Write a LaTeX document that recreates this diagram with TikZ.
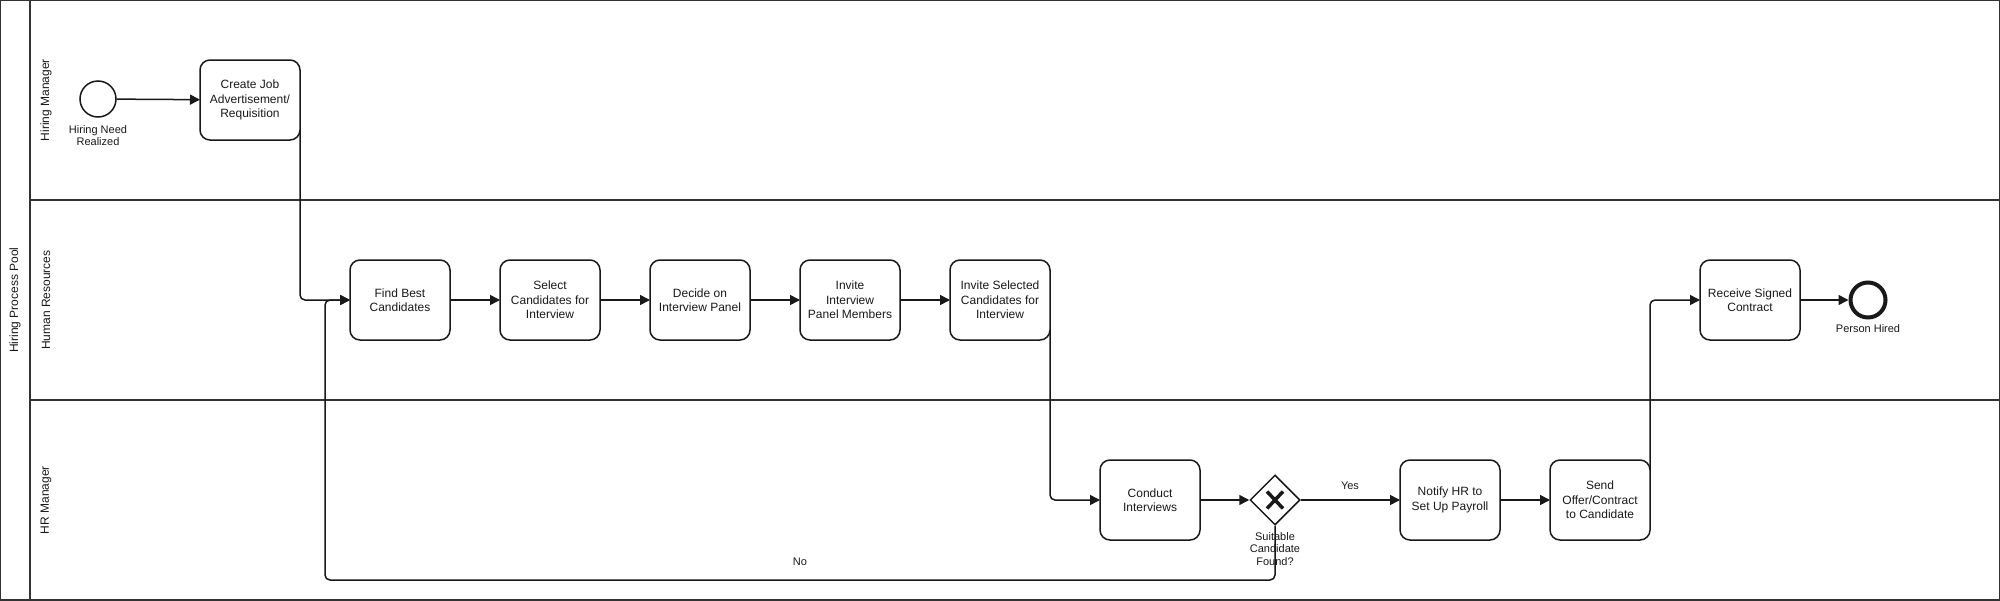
\documentclass[tikz,border=0pt]{standalone}
\usepackage{fontspec}
\setmainfont{Liberation Sans}
\usetikzlibrary{arrows.meta,shapes.geometric}

\begin{document}
\begin{tikzpicture}[x=1pt, y=-1pt,
    marc/.style={draw=black!80, line width=1.2pt},
    carril/.style={rotate=90, font=\fontsize{12}{14}\selectfont, text=black!90},
    tasca/.style={draw=black!90, line width=1.5pt, rounded corners=10pt, minimum width=100pt, minimum height=80pt, inner sep=2pt, outer sep=0pt, align=center, font=\fontsize{12}{14.5}\selectfont, text=black!90},
    esdev/.style={circle, draw=black!90, inner sep=0pt, minimum size=36pt},
    etiq/.style={font=\fontsize{11}{12.7}\selectfont, align=center, text=black!90},
    flux/.style={draw=black!90, line width=1.5pt, rounded corners=5pt, -{Triangle[length=10pt,width=10pt]}}]

    \useasboundingbox (0,0) rectangle (2000,600);

    % PISCINA I CARRILS
    \draw[marc] (0,0) rectangle (2000,600);
    \draw[marc] (30,0) -- (30,600);
    \draw[marc] (30,200) -- (2000,200);
    \draw[marc] (30,400) -- (2000,400);
    \node[carril] (piscina) at (15,300) {Hiring Process Pool};
    \node[carril] (carrilA) at (46,100) {Hiring Manager};
    \node[carril] (carrilB) at (46,300) {Human Resources};
    \node[carril] (carrilC) at (46,500) {HR Manager};

    % ESDEVENIMENTS
    \node[esdev, line width=1.5pt] (inici) at (98,99) {};
    \node[etiq] (inicilbl) at (98,135.5) {Hiring Need\\Realized};
    \node[esdev, line width=4pt, minimum size=35pt] (fi) at (1868,300) {};
    \node[etiq] (filbl) at (1868,329) {Person Hired};

    % TASQUES
    \node[tasca] (crear) at (250,100) {Create Job\\Advertisement/\\Requisition};
    \node[tasca] (cercar) at (400,300) {Find Best\\Candidates};
    \node[tasca] (selec) at (550,300) {Select\\Candidates for\\Interview};
    \node[tasca] (decidir) at (700,300) {Decide on\\Interview Panel};
    \node[tasca] (convidar) at (850,300) {Invite\\Interview\\Panel Members};
    \node[tasca] (invsel) at (1000,300) {Invite Selected\\Candidates for\\Interview};
    \node[tasca] (rebre) at (1750,300) {Receive Signed\\Contract};
    \node[tasca] (entrevista) at (1150,500) {Conduct\\Interviews};
    \node[tasca] (notif) at (1450,500) {Notify HR to\\Set Up Payroll};
    \node[tasca] (oferta) at (1600,500) {Send\\Offer/Contract\\to Candidate};

    % PORTA EXCLUSIVA
    \node[diamond, draw=black!90, line width=1.5pt, inner sep=0pt, minimum width=50pt, minimum height=50pt] (porta) at (1275,500) {};
    \draw[draw=black!90, line width=3.5pt] ([shift={(-8,-8.5)}]porta.center) -- ([shift={(8,8.5)}]porta.center);
    \draw[draw=black!90, line width=3.5pt] ([shift={(-8,8.5)}]porta.center) -- ([shift={(8,-8.5)}]porta.center);
    \node[etiq, font=\fontsize{11}{12.5}\selectfont] (portalbl) at (1275,549) {Suitable\\Candidate\\Found?};

    % FLUXOS
    \coordinate (retorn) at (325,580);
    \draw[flux] (inici) -- (crear);
    \draw[flux] ([yshift=10pt]crear.south east) |- (cercar);
    \draw[flux] (cercar) -- (selec);
    \draw[flux] (selec) -- (decidir);
    \draw[flux] (decidir) -- (convidar);
    \draw[flux] (convidar) -- (invsel);
    \draw[flux] ([yshift=10pt]invsel.south east) |- (entrevista);
    \draw[flux] (entrevista) -- (porta);
    \draw[flux] (porta) -- (notif);
    \node[etiq] (silbl) at (1350,486) {Yes};
    \draw[flux] (porta.south) |- (retorn) |- (cercar);
    \node[etiq] (nolbl) at (800,562) {No};
    \draw[flux] (notif) -- (oferta);
    \draw[flux] ([yshift=-10pt]oferta.north east) |- (rebre);
    \draw[flux] (rebre) -- (fi);

\end{tikzpicture}
\end{document}
